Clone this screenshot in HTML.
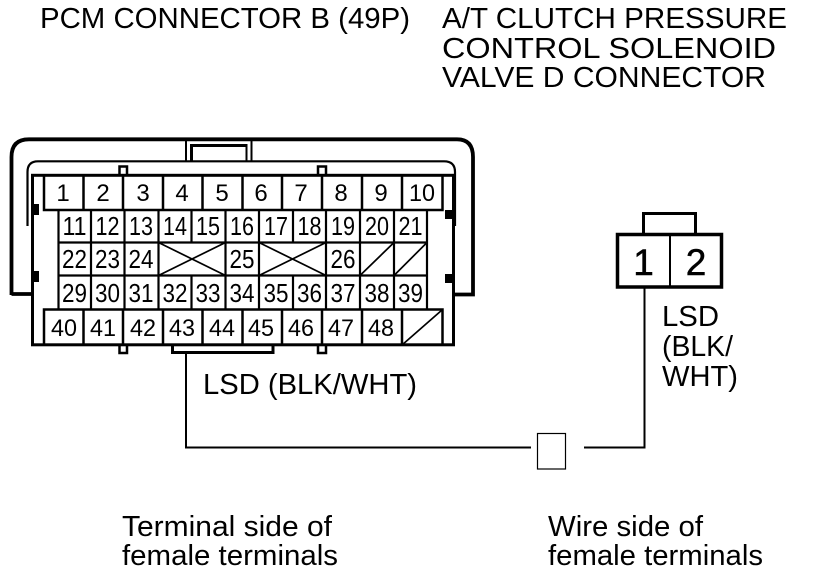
<!DOCTYPE html>
<html><head><meta charset="utf-8"><style>
html,body{margin:0;padding:0;background:#fff}
svg{display:block}
text{font-family:"Liberation Sans",Arial,sans-serif;fill:#000}
.a{font-size:24px;text-anchor:middle}
.b{font-size:25.500px;text-anchor:middle}
.t{font-size:29px}
</style></head><body>
<svg width="816" height="576" viewBox="0 0 816 576" xmlns="http://www.w3.org/2000/svg">
<text class="t" x="40" y="28" textLength="370" lengthAdjust="spacingAndGlyphs">PCM CONNECTOR B (49P)</text>
<text class="t" x="442" y="28" textLength="345" lengthAdjust="spacingAndGlyphs">A/T CLUTCH PRESSURE</text>
<text class="t" x="442" y="58" textLength="334" lengthAdjust="spacingAndGlyphs">CONTROL SOLENOID</text>
<text class="t" x="442" y="87" textLength="324" lengthAdjust="spacingAndGlyphs">VALVE D CONNECTOR</text>

<g fill="none" stroke="#000">
<path d="M11.500 295V157Q11.500 139.300 29 139.300H457Q473 139.300 473 157V294.500H454M11.500 294H32" stroke-width="3.800"/>
<path d="M27.500 226V172Q27.500 161.300 38 161.300H444Q455 161.300 455 172V226" stroke-width="2.200"/>
<path d="M186 140V161M251.500 140V161" stroke-width="2"/>
<path d="M191.500 161V145.500" stroke-width="3"/>
<path d="M190 145.500H247.500" stroke-width="3"/>
<path d="M246.500 145V161" stroke-width="2"/>
<rect x="32.500" y="175.300" width="421" height="169.500" stroke-width="3"/>
<path d="M119.500 174V166.500H127V174M318 174V166.500H326V174" stroke-width="2.500"/>
<path d="M119.500 345V353H127V345M318 345V353H326V345" stroke-width="2.500"/>
<path d="M172.500 345V352.500H273V345" stroke-width="3"/>

<g stroke-width="2.500">
<path d="M44 176V210H442.500V176M44 345V309.500H442.500V345"/>
<path d="M83.500 176V210M123 176V210M163 176V210M202.500 176V210M242.500 176V210M282 176V210M322 176V210M362 176V210M402 176V210"/>
<path d="M83.500 309.500V345M123 309.500V345M163 309.500V345M202.500 309.500V345M242.500 309.500V345M282 309.500V345M322 309.500V345M362 309.500V345M402 309.500V345"/>
</g>
<g stroke-width="2.200">
<path d="M58.500 210V309.500M427 210V309.500"/>
<path d="M58.500 242.500H427M58.500 275.500H427"/>
<path d="M91 210V309.500M124.500 210V309.500M158.500 210V309.500M191.500 210V242.500M191.500 275.500V309.500M225.500 210V309.500M259 210V309.500M293 210V242.500M293 275.500V309.500M326 210V309.500M360 210V309.500M394 210V309.500"/>
</g>
<g stroke-width="1.700">
<path d="M158.500 242.500L225.500 275.500M225.500 242.500L158.500 275.500"/>
<path d="M259 242.500L326 275.500M326 242.500L259 275.500"/>
<path d="M360 275.500L394 242.500M394 275.500L427 242.500M402 345L442 310"/>
</g>

<path d="M186 354V447.500H531M584 447.500H644.500V288" stroke-width="2"/>
<rect x="537.500" y="433.500" width="28" height="35.500" stroke-width="1.200"/>
<rect x="617.500" y="234.500" width="104" height="52.500" stroke-width="3.500"/>
<path d="M670 234V287" stroke-width="2"/>
<path d="M643.500 233V213.500H695.500V233" stroke-width="3"/>
</g>
<g fill="#000">
<rect x="32" y="204" width="7" height="11"/><rect x="32" y="271" width="7" height="11"/>
<rect x="445" y="210" width="8" height="9"/><rect x="445" y="274" width="8" height="9"/>
</g>

<g class="a">
<text x="63" y="201">1</text><text x="103" y="201">2</text><text x="143" y="201">3</text><text x="182" y="201">4</text><text x="222" y="201">5</text><text x="261" y="201">6</text><text x="301" y="201">7</text><text x="341" y="201">8</text><text x="381" y="201">9</text><text x="422" y="201" textLength="26" lengthAdjust="spacingAndGlyphs">10</text>
<text x="64" y="336" textLength="26" lengthAdjust="spacingAndGlyphs">40</text><text x="103" y="336" textLength="26" lengthAdjust="spacingAndGlyphs">41</text><text x="143" y="336" textLength="26" lengthAdjust="spacingAndGlyphs">42</text><text x="182" y="336" textLength="26" lengthAdjust="spacingAndGlyphs">43</text><text x="222" y="336" textLength="26" lengthAdjust="spacingAndGlyphs">44</text><text x="261" y="336" textLength="26" lengthAdjust="spacingAndGlyphs">45</text><text x="301" y="336" textLength="26" lengthAdjust="spacingAndGlyphs">46</text><text x="341" y="336" textLength="26" lengthAdjust="spacingAndGlyphs">47</text><text x="381" y="336" textLength="26" lengthAdjust="spacingAndGlyphs">48</text>
</g>
<g class="b">
<text x="74.500" y="235" textLength="24" lengthAdjust="spacingAndGlyphs">11</text><text x="107.500" y="235" textLength="24" lengthAdjust="spacingAndGlyphs">12</text><text x="141" y="235" textLength="24" lengthAdjust="spacingAndGlyphs">13</text><text x="175" y="235" textLength="24" lengthAdjust="spacingAndGlyphs">14</text><text x="208" y="235" textLength="24" lengthAdjust="spacingAndGlyphs">15</text><text x="242" y="235" textLength="24" lengthAdjust="spacingAndGlyphs">16</text><text x="276" y="235" textLength="24" lengthAdjust="spacingAndGlyphs">17</text><text x="309.500" y="235" textLength="24" lengthAdjust="spacingAndGlyphs">18</text><text x="343" y="235" textLength="24" lengthAdjust="spacingAndGlyphs">19</text><text x="377" y="235" textLength="24" lengthAdjust="spacingAndGlyphs">20</text><text x="410.500" y="235" textLength="24" lengthAdjust="spacingAndGlyphs">21</text>
<text x="74.500" y="268" textLength="25" lengthAdjust="spacingAndGlyphs">22</text><text x="107.500" y="268" textLength="25" lengthAdjust="spacingAndGlyphs">23</text><text x="141" y="268" textLength="25" lengthAdjust="spacingAndGlyphs">24</text><text x="242" y="268" textLength="25" lengthAdjust="spacingAndGlyphs">25</text><text x="343" y="268" textLength="25" lengthAdjust="spacingAndGlyphs">26</text>
<text x="74.500" y="302" textLength="25" lengthAdjust="spacingAndGlyphs">29</text><text x="107.500" y="302" textLength="25" lengthAdjust="spacingAndGlyphs">30</text><text x="141" y="302" textLength="25" lengthAdjust="spacingAndGlyphs">31</text><text x="175" y="302" textLength="25" lengthAdjust="spacingAndGlyphs">32</text><text x="208" y="302" textLength="25" lengthAdjust="spacingAndGlyphs">33</text><text x="242" y="302" textLength="25" lengthAdjust="spacingAndGlyphs">34</text><text x="276" y="302" textLength="25" lengthAdjust="spacingAndGlyphs">35</text><text x="309.500" y="302" textLength="25" lengthAdjust="spacingAndGlyphs">36</text><text x="343" y="302" textLength="25" lengthAdjust="spacingAndGlyphs">37</text><text x="377" y="302" textLength="25" lengthAdjust="spacingAndGlyphs">38</text><text x="410.500" y="302" textLength="25" lengthAdjust="spacingAndGlyphs">39</text>
</g>
<text x="643.500" y="275" font-size="37" text-anchor="middle" stroke="#000" stroke-width="0.500">1</text>
<text x="696" y="275" font-size="37" text-anchor="middle" stroke="#000" stroke-width="0.500">2</text>

<text class="t" x="203" y="394" textLength="214" lengthAdjust="spacingAndGlyphs">LSD (BLK/WHT)</text>
<text class="t" x="662" y="326" textLength="57" lengthAdjust="spacingAndGlyphs">LSD</text>
<text class="t" x="662" y="356" textLength="71" lengthAdjust="spacingAndGlyphs">(BLK/</text>
<text class="t" x="662" y="386" textLength="76" lengthAdjust="spacingAndGlyphs">WHT)</text>
<text class="t" x="122" y="536" textLength="210" lengthAdjust="spacingAndGlyphs">Terminal side of</text>
<text class="t" x="122" y="565" textLength="216" lengthAdjust="spacingAndGlyphs">female terminals</text>
<text class="t" x="548" y="536" textLength="155" lengthAdjust="spacingAndGlyphs">Wire side of</text>
<text class="t" x="548" y="565" textLength="215" lengthAdjust="spacingAndGlyphs">female terminals</text>
</svg>
</body></html>
